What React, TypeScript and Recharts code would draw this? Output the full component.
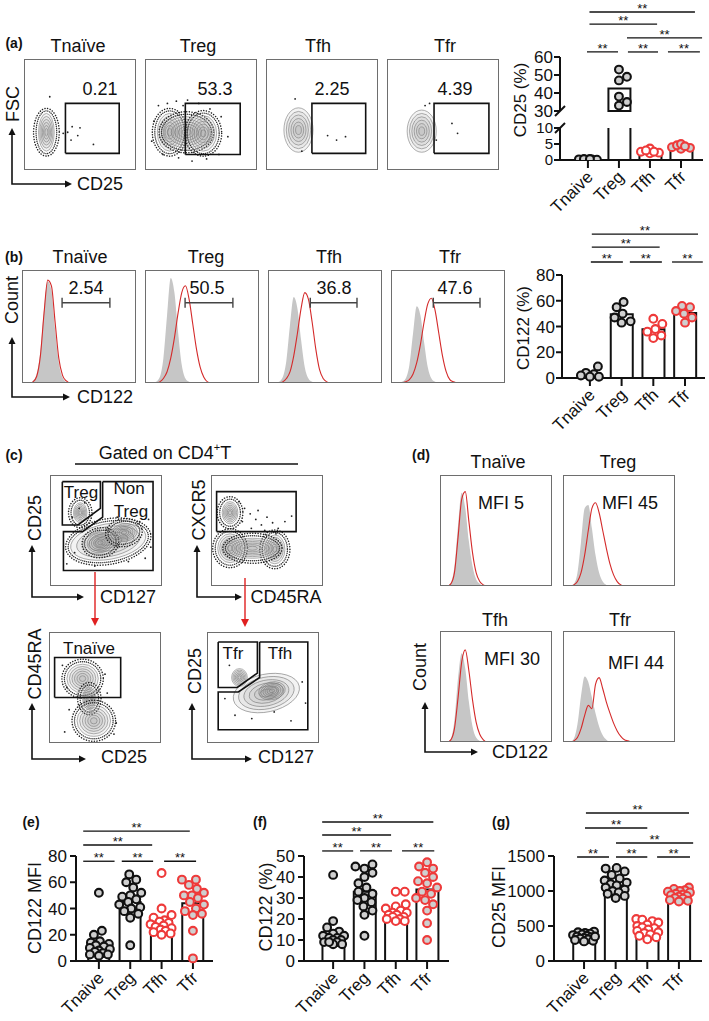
import React from "react";
import { Area, Bar, ComposedChart, Line, ReferenceLine, Scatter, XAxis, YAxis } from "recharts";

const FONT = '"Liberation Sans", Arial, Helvetica, sans-serif';
const INK = "#111111";
const RED = "#ee3a3a";
const HIST_RED = "#d42a2a";
const BOX = "#6e6e6e";

const GROUPS = ["Tnaive", "Treg", "Tfh", "Tfr"];
const TITLES = ["Tnaïve", "Treg", "Tfh", "Tfr"];
const DOT_STROKE = [INK, INK, RED, RED];
const DOT_FILL = ["#cfcfcf", "#cfcfcf", "#ffffff", "#cfcfcf"];

// ---------- (a) FSC vs CD25 flow plots ----------
const aPercent = ["0.21", "53.3", "2.25", "4.39"];
const aPopTnaive = [{ x: 20, y: 34, rx: 7, ry: 17 }];
const aPopTreg = [
  { x: 22, y: 34, rx: 11, ry: 17 },
  { x: 37, y: 34, rx: 20, ry: 14 },
  { x: 52, y: 33, rx: 12, ry: 16 },
];
const aPopTfh = [{ x: 29, y: 36, rx: 13, ry: 20 }];
const aPopTfr = [{ x: 31, y: 35, rx: 13, ry: 19 }];
const aEvTnaive = [
  { x: 23, y: 66 }, { x: 43, y: 39 }, { x: 50, y: 38 }, { x: 48, y: 31 },
  { x: 62, y: 23 }, { x: 42, y: 27 }, { x: 39, y: 34 }, { x: 35, y: 33 },
];
const aEvTreg = [
  { x: 8, y: 44 }, { x: 12, y: 58 }, { x: 20, y: 60 }, { x: 28, y: 62 }, { x: 38, y: 63 },
  { x: 48, y: 60 }, { x: 58, y: 55 }, { x: 68, y: 48 }, { x: 74, y: 30 }, { x: 66, y: 14 },
  { x: 55, y: 10 }, { x: 42, y: 8 }, { x: 30, y: 11 }, { x: 16, y: 14 }, { x: 6, y: 26 }, { x: 34, y: 58 },
];
const aEvTfh = [{ x: 71, y: 30 }, { x: 63, y: 27 }, { x: 55, y: 31 }, { x: 26, y: 64 }, { x: 32, y: 17 }];
const aEvTfr = [{ x: 58, y: 42 }, { x: 63, y: 33 }, { x: 34, y: 58 }, { x: 44, y: 27 }, { x: 38, y: 60 }];
const aGateTnaive = [{ x: 37, y: 15 }, { x: 85, y: 15 }, { x: 85, y: 60 }, { x: 37, y: 60 }, { x: 37, y: 15 }];
const aGateTreg = [{ x: 36, y: 14 }, { x: 85, y: 14 }, { x: 85, y: 60 }, { x: 36, y: 60 }, { x: 36, y: 14 }];
const aGateTfh = [{ x: 41, y: 15 }, { x: 89, y: 15 }, { x: 89, y: 60 }, { x: 41, y: 60 }, { x: 41, y: 15 }];
const aGateTfr = [{ x: 42, y: 15 }, { x: 91, y: 15 }, { x: 91, y: 60 }, { x: 42, y: 60 }, { x: 42, y: 15 }];

// ---------- (a) CD25 (%) bar chart ----------
const aTnaive = [0.2, 0.1, 0.3, 0.2, 0.1, 0.3];
const aTreg = [53, 49, 47, 38, 35, 33];
const aTfh = [2.3, 2.1, 2.6, 3.6, 3.0, 2.6];
const aTfr = [3.5, 4.0, 4.6, 5.0, 3.8, 4.3];
const aMeans = [0.2, 42.5, 2.7, 4.2];

// ---------- (b) CD122 histograms (32 bins) ----------
const bPercent = ["2.54", "50.5", "36.8", "47.6"];
const bCtrlTnaive = [0, 0, 0, 2, 8, 28, 66, 90, 82, 48, 18, 5, 1, 0, 0, 0, 0, 0, 0, 0, 0, 0, 0, 0, 0, 0, 0, 0, 0, 0, 0, 0];
const bStainTnaive = [0, 0, 0, 1, 6, 24, 62, 91, 86, 54, 22, 7, 2, 0, 0, 0, 0, 0, 0, 0, 0, 0, 0, 0, 0, 0, 0, 0, 0, 0, 0, 0];
const bCtrlTreg = [0, 0, 0, 1, 5, 22, 60, 93, 80, 45, 16, 4, 1, 0, 0, 0, 0, 0, 0, 0, 0, 0, 0, 0, 0, 0, 0, 0, 0, 0, 0, 0];
const bStainTreg = [0, 0, 0, 0, 1, 4, 10, 22, 40, 62, 80, 86, 74, 52, 30, 14, 5, 1, 0, 0, 0, 0, 0, 0, 0, 0, 0, 0, 0, 0, 0, 0];
const bCtrlTfh = [0, 0, 0, 1, 5, 20, 52, 76, 66, 38, 14, 4, 1, 0, 0, 0, 0, 0, 0, 0, 0, 0, 0, 0, 0, 0, 0, 0, 0, 0, 0, 0];
const bStainTfh = [0, 0, 0, 0, 1, 4, 10, 24, 44, 66, 80, 74, 54, 30, 12, 4, 1, 0, 0, 0, 0, 0, 0, 0, 0, 0, 0, 0, 0, 0, 0, 0];
const bCtrlTfr = [0, 0, 0, 1, 4, 16, 44, 68, 60, 36, 14, 4, 1, 0, 0, 0, 0, 0, 0, 0, 0, 0, 0, 0, 0, 0, 0, 0, 0, 0, 0, 0];
const bStainTfr = [0, 0, 0, 0, 1, 3, 8, 18, 34, 54, 70, 75, 64, 44, 24, 10, 3, 1, 0, 0, 0, 0, 0, 0, 0, 0, 0, 0, 0, 0, 0, 0];
const bGates = [
  { x1: 10.9, x2: 23.9, y: 71 },
  { x1: 10.9, x2: 23.9, y: 71 },
  { x1: 11.5, x2: 24.2, y: 71 },
  { x1: 11.5, x2: 24.2, y: 71 },
];

// ---------- (b) CD122 (%) bar chart ----------
const bTnaive = [9, 4, 3, 2, 1, 1];
const bTreg = [59, 55, 50, 47, 44, 43];
const bTfh = [46, 42, 38, 36, 33, 31];
const bTfr = [56, 55, 52, 50, 47, 43];
const bMeans = [3.3, 49.5, 37.8, 50.5];

// ---------- (c) gating ----------
const cPop1 = [
  { x: 52, y: 40, rx: 34, ry: 16, rot: -10 },
  { x: 45, y: 39, rx: 12, ry: 9, rot: -10 },
  { x: 66, y: 48, rx: 12, ry: 8, rot: -10 },
  { x: 27, y: 66, rx: 6, ry: 9, rot: 0 },
];
const cEv1 = [
  { x: 26, y: 70 }, { x: 31, y: 75 }, { x: 20, y: 62 }, { x: 88, y: 60 }, { x: 90, y: 35 }, { x: 15, y: 20 },
  { x: 40, y: 18 }, { x: 70, y: 22 }, { x: 85, y: 25 }, { x: 60, y: 62 }, { x: 22, y: 30 }, { x: 80, y: 58 },
];
const cGateTreg = [{ x: 11, y: 94 }, { x: 45, y: 94 }, { x: 45, y: 70 }, { x: 25, y: 55 }, { x: 11, y: 55 }, { x: 11, y: 94 }];
const cGateNonTreg = [
  { x: 47, y: 94 }, { x: 92, y: 94 }, { x: 92, y: 14 }, { x: 12, y: 14 },
  { x: 12, y: 49 }, { x: 29, y: 49 }, { x: 47, y: 62 }, { x: 47, y: 94 },
];
const cPop2 = [
  { x: 17, y: 66, rx: 7, ry: 10, rot: 0 },
  { x: 17, y: 34, rx: 11, ry: 13, rot: 0 },
  { x: 57, y: 33, rx: 9, ry: 13, rot: 0 },
  { x: 37, y: 34, rx: 22, ry: 9, rot: 0 },
];
const cEv2 = [
  { x: 30, y: 70 }, { x: 35, y: 65 }, { x: 40, y: 60 }, { x: 28, y: 58 }, { x: 45, y: 55 },
  { x: 50, y: 62 }, { x: 55, y: 57 }, { x: 60, y: 52 }, { x: 36, y: 52 }, { x: 42, y: 68 },
  { x: 25, y: 76 }, { x: 66, y: 58 }, { x: 72, y: 63 }, { x: 48, y: 50 }, { x: 58, y: 47 },
];
const cGateCxcr5 = [{ x: 5, y: 49 }, { x: 76, y: 49 }, { x: 76, y: 85 }, { x: 5, y: 85 }, { x: 5, y: 49 }];
const cPop3 = [
  { x: 30, y: 58, rx: 14, ry: 13, rot: 0 },
  { x: 36, y: 40, rx: 6, ry: 10, rot: 0 },
  { x: 40, y: 20, rx: 15, ry: 14, rot: 0 },
];
const cEv3 = [
  { x: 12, y: 70 }, { x: 16, y: 50 }, { x: 50, y: 62 }, { x: 52, y: 45 },
  { x: 18, y: 30 }, { x: 60, y: 18 }, { x: 14, y: 10 }, { x: 58, y: 8 },
];
const cGateTnaive = [{ x: 5, y: 41 }, { x: 64, y: 41 }, { x: 64, y: 77 }, { x: 5, y: 77 }, { x: 5, y: 41 }];
const cPop4 = [
  { x: 53, y: 45, rx: 30, ry: 17, rot: -12 },
  { x: 58, y: 47, rx: 12, ry: 8, rot: -12 },
  { x: 29, y: 59, rx: 7, ry: 8, rot: 0 },
];
const cEv4 = [
  { x: 20, y: 70 }, { x: 85, y: 55 }, { x: 88, y: 36 }, { x: 25, y: 25 },
  { x: 40, y: 22 }, { x: 60, y: 28 }, { x: 75, y: 20 }, { x: 16, y: 40 },
];
const cGateTfr = [{ x: 10, y: 91 }, { x: 45, y: 91 }, { x: 45, y: 63 }, { x: 27, y: 50 }, { x: 10, y: 50 }, { x: 10, y: 91 }];
const cGateTfh = [
  { x: 47, y: 91 }, { x: 90, y: 91 }, { x: 90, y: 12 }, { x: 10, y: 12 },
  { x: 10, y: 46 }, { x: 28, y: 46 }, { x: 47, y: 59 }, { x: 47, y: 91 },
];

// ---------- (d) CD122 histograms (32 bins) ----------
const dMfi = ["MFI 5", "MFI 45", "MFI 30", "MFI 44"];
const dCtrlTnaive = [0, 0, 0, 3, 18, 55, 84, 70, 40, 18, 6, 2, 0, 0, 0, 0, 0, 0, 0, 0, 0, 0, 0, 0, 0, 0, 0, 0, 0, 0, 0, 0];
const dStainTnaive = [0, 0, 0, 2, 12, 44, 78, 85, 58, 30, 12, 4, 1, 0, 0, 0, 0, 0, 0, 0, 0, 0, 0, 0, 0, 0, 0, 0, 0, 0, 0, 0];
const dCtrlTreg = [0, 0, 0, 2, 12, 40, 70, 73, 52, 28, 12, 4, 1, 0, 0, 0, 0, 0, 0, 0, 0, 0, 0, 0, 0, 0, 0, 0, 0, 0, 0, 0];
const dStainTreg = [0, 0, 0, 1, 4, 12, 28, 50, 70, 75, 66, 50, 34, 20, 10, 4, 1, 0, 0, 0, 0, 0, 0, 0, 0, 0, 0, 0, 0, 0, 0, 0];
const dCtrlTfh = [0, 0, 0, 3, 20, 58, 80, 66, 36, 14, 4, 1, 0, 0, 0, 0, 0, 0, 0, 0, 0, 0, 0, 0, 0, 0, 0, 0, 0, 0, 0, 0];
const dStainTfh = [0, 0, 0, 2, 12, 40, 72, 83, 64, 38, 18, 7, 2, 0, 0, 0, 0, 0, 0, 0, 0, 0, 0, 0, 0, 0, 0, 0, 0, 0, 0, 0];
const dCtrlTfr = [0, 0, 0, 3, 16, 42, 59, 54, 40, 26, 14, 6, 2, 0, 0, 0, 0, 0, 0, 0, 0, 0, 0, 0, 0, 0, 0, 0, 0, 0, 0, 0];
const dStainTfr = [0, 0, 0, 1, 4, 12, 24, 33, 30, 52, 58, 48, 36, 26, 17, 10, 5, 2, 1, 0, 0, 0, 0, 0, 0, 0, 0, 0, 0, 0, 0, 0];

// ---------- (e) CD122 MFI ----------
const eTnaive = [52, 23, 20, 15, 14, 13, 12, 11, 10, 9, 8, 7, 6, 5, 4, 5];
const eTreg = [66, 62, 60, 56, 52, 50, 49, 47, 45, 43, 41, 40, 38, 36, 33, 12];
const eTfh = [67, 40, 35, 33, 31, 30, 29, 28, 27, 26, 25, 24, 23, 22, 21, 20];
const eTfr = [62, 62, 58, 55, 52, 50, 50, 48, 45, 43, 40, 38, 36, 35, 23, 2];
const eMeans = [14, 45, 30.5, 44];

// ---------- (f) CD122 (%) ----------
const fTnaive = [41, 19, 16, 14, 13, 12, 12, 11, 11, 10, 10, 9, 9, 8, 8, 9];
const fTreg = [46, 45, 44, 42, 40, 37, 35, 33, 32, 30, 29, 28, 26, 24, 22, 12];
const fTfh = [33, 33, 27, 26, 25, 24, 23, 23, 22, 22, 21, 21, 20, 20, 19, 19];
const fTfr = [47, 45, 44, 42, 40, 38, 37, 35, 33, 32, 30, 29, 27, 24, 18, 10];
const fMeans = [13, 33, 24, 34];

// ---------- (g) CD25 MFI ----------
const gTnaive = [420, 410, 400, 390, 380, 370, 360, 350, 340, 330, 320, 310, 300, 290, 280, 350];
const gTreg = [1330, 1320, 1280, 1230, 1180, 1150, 1120, 1100, 1080, 1050, 1020, 1000, 980, 960, 930, 900];
const gTfh = [600, 590, 570, 550, 520, 500, 480, 470, 450, 430, 410, 400, 380, 360, 340, 310];
const gTfr = [1050, 1030, 1010, 1000, 990, 980, 960, 950, 940, 930, 920, 900, 890, 870, 860, 850];
const gMeans = [350, 1080, 470, 940];

type Pt = { x: number; y: number };
type Pop = { x: number; y: number; rx: number; ry: number; rot?: number };
type Bracket = { x1: number; x2: number; y: number };

// beeswarm offsets in pixels, so dots of one group do not pile on each other
function swarm(values: number[], ppu: number, r: number, limit: number): number[] {
  const order = values.map((v, i) => ({ v, i })).sort((a, b) => a.v - b.v);
  const placed: Pt[] = [];
  const out = new Array(values.length).fill(0);
  for (const { v, i } of order) {
    const y = v * ppu;
    let best = 0;
    let bestD = -Infinity;
    for (let s = 0; s <= limit * 2; s++) {
      const c = s === 0 ? 0 : (s % 2 ? 1 : -1) * Math.ceil(s / 2);
      const d = placed.reduce((m, p) => Math.min(m, Math.hypot(p.x - c, p.y - y)), Infinity);
      if (d >= 2 * r) {
        best = c;
        break;
      }
      if (d > bestD + 0.5) {
        bestD = d;
        best = c;
      }
    }
    out[i] = best;
    placed.push({ x: best, y });
  }
  return out;
}

function Txt({ x, y, size = 18, rot = 0, bold = false, children }: any) {
  return (
    <div
      style={{
        position: "absolute",
        left: x,
        top: y,
        transform: `translate(-50%, -50%) rotate(${rot}deg)`,
        fontSize: size,
        fontWeight: bold ? 700 : 400,
        whiteSpace: "nowrap",
        lineHeight: 1,
        color: INK,
      }}
    >
      {children}
    </div>
  );
}

const RotTick = (p: any) => {
  const x = p.x + 6;
  const y = p.y + 8;
  return (
    <text x={x} y={y} transform={`rotate(-45 ${x} ${y})`} textAnchor="end" fontSize={17} fill={INK}>
      {GROUPS[p.payload.value]}
    </text>
  );
};

const dotShape = (stroke: string, fill: string) => (p: any) =>
  p.cx == null ? <g /> : (
    <circle cx={p.cx + (p.payload?.dx ?? 0)} cy={p.cy} r={3.9} fill={fill} stroke={stroke} strokeWidth={2.1} />
  );

const eventShape = (p: any) => <circle cx={p.cx} cy={p.cy} r={0.9} fill="#222" />;

const contourShape = (kx: number, ky: number, speckle: boolean) => (p: any) => {
  const { cx, cy, payload } = p;
  const rx = payload.rx * kx;
  const ry = payload.ry * ky;
  const rings = [1, 0.84, 0.68, 0.52, 0.36, 0.2];
  return (
    <g transform={`rotate(${payload.rot ?? 0} ${cx} ${cy})`}>
      {speckle && (
        <>
          <ellipse cx={cx} cy={cy} rx={rx + 5} ry={ry + 5} fill="none" stroke="#222" strokeWidth={1.5} strokeDasharray="0.1 2.6" strokeLinecap="round" />
          <ellipse cx={cx} cy={cy} rx={rx + 2.5} ry={ry + 2.5} fill="none" stroke="#333" strokeWidth={1.4} strokeDasharray="0.1 1.9" strokeLinecap="round" />
        </>
      )}
      {rings.map((s) => (
        <ellipse key={s} cx={cx} cy={cy} rx={rx * s} ry={ry * s} fill="#9a9a9a" fillOpacity={0.12} stroke="#7a7a7a" strokeWidth={0.6} />
      ))}
    </g>
  );
};

function FlowPlot({ left, top, w, h, pops, events, gates, speckle }: {
  left: number; top: number; w: number; h: number; pops: Pop[]; events: Pt[]; gates: Pt[][]; speckle: boolean;
}) {
  return (
    <div style={{ position: "absolute", left, top, width: w, height: h }}>
      <ComposedChart width={w} height={h} margin={{ top: 0, right: 0, bottom: 0, left: 0 }}>
        <XAxis type="number" dataKey="x" domain={[0, 100]} allowDataOverflow hide />
        <YAxis type="number" domain={[0, 100]} allowDataOverflow hide />
        <Scatter data={pops} dataKey="y" shape={contourShape(w / 100, h / 100, speckle)} isAnimationActive={false} />
        <Scatter data={events} dataKey="y" shape={eventShape} isAnimationActive={false} />
        {gates.map((g, i) => (
          <Scatter
            key={i}
            data={g}
            dataKey="y"
            line={{ stroke: INK, strokeWidth: 1.6 }}
            lineType="joint"
            shape={() => <g />}
            isAnimationActive={false}
          />
        ))}
      </ComposedChart>
      <div style={{ position: "absolute", inset: 0, border: `1.5px solid ${BOX}` }} />
    </div>
  );
}

function HistPlot({ left, top, w, h, ctrl, stain, gate }: {
  left: number; top: number; w: number; h: number; ctrl: number[]; stain: number[]; gate?: { x1: number; x2: number; y: number };
}) {
  const data = ctrl.map((c, i) => ({ b: i, c, s: stain[i] }));
  return (
    <div style={{ position: "absolute", left, top, width: w, height: h }}>
      <ComposedChart width={w} height={h} data={data} margin={{ top: 0, right: 0, bottom: 0, left: 0 }}>
        <XAxis type="number" dataKey="b" domain={[0, ctrl.length - 1]} hide />
        <YAxis type="number" domain={[0, 100]} hide />
        <Area dataKey="c" type="monotone" fill="#c6c6c6" fillOpacity={1} stroke="none" isAnimationActive={false} />
        <Line dataKey="s" type="monotone" stroke={HIST_RED} strokeWidth={1.1} dot={false} isAnimationActive={false} />
        {gate && (
          <ReferenceLine segment={[{ x: gate.x1, y: gate.y }, { x: gate.x2, y: gate.y }]} stroke="#444" strokeWidth={1.4} ifOverflow="visible" />
        )}
        {gate && (
          <ReferenceLine segment={[{ x: gate.x1, y: gate.y - 4.5 }, { x: gate.x1, y: gate.y + 4.5 }]} stroke="#444" strokeWidth={1.4} ifOverflow="visible" />
        )}
        {gate && (
          <ReferenceLine segment={[{ x: gate.x2, y: gate.y - 4.5 }, { x: gate.x2, y: gate.y + 4.5 }]} stroke="#444" strokeWidth={1.4} ifOverflow="visible" />
        )}
      </ComposedChart>
      <div style={{ position: "absolute", inset: 0, border: `1.5px solid ${BOX}` }} />
    </div>
  );
}

function BarPanel(props: {
  plotLeft: number; plotTop: number; plotW: number; plotH: number;
  yDomain: [number, number]; yTicks: number[]; xDomain: [number, number];
  means: (number | null)[]; values: (number[] | null)[]; barSize: number;
  brackets?: Bracket[]; showXAxis?: boolean; clipY?: boolean; topSpace: number;
  bottomSpace?: number; tickGap?: number; tickFont?: number;
}) {
  const yW = 56;
  const xH = props.showXAxis ? 70 : 0;
  const bottom = props.bottomSpace ?? 0;
  const width = yW + props.plotW + 12;
  const height = props.topSpace + props.plotH + xH + bottom;
  const ppu = props.plotH / (props.yDomain[1] - props.yDomain[0]);
  const rows = props.means.map((m, i) => ({ x: i, mean: m }));
  const dots = props.values.map((vals, i) => {
    if (!vals) return [];
    const dx = swarm(vals, ppu, 4.2, 11);
    return vals.map((v, k) => ({ x: i, v, dx: dx[k] }));
  });
  const axisStyle = { stroke: INK, strokeWidth: 2 };
  return (
    <div style={{ position: "absolute", left: props.plotLeft - yW, top: props.plotTop - props.topSpace }}>
      <ComposedChart width={width} height={height} data={rows} margin={{ top: props.topSpace, right: 12, bottom, left: 0 }}>
        <XAxis
          type="number"
          dataKey="x"
          domain={props.xDomain}
          allowDataOverflow
          ticks={[0, 1, 2, 3]}
          interval={0}
          hide={!props.showXAxis}
          height={xH}
          tickSize={8}
          tickLine={axisStyle}
          axisLine={axisStyle}
          tick={<RotTick />}
        />
        <YAxis
          type="number"
          domain={props.yDomain}
          allowDataOverflow={!!props.clipY}
          ticks={props.yTicks}
          interval={0}
          width={yW}
          tickSize={6}
          tickMargin={props.tickGap ?? 3}
          tick={{ fill: INK, fontSize: props.tickFont ?? 17 }}
          tickLine={axisStyle}
          axisLine={axisStyle}
        />
        <Bar dataKey="mean" barSize={props.barSize} fill="#ffffff" stroke={INK} strokeWidth={2} isAnimationActive={false} />
        {dots.map((d, i) => (
          <Scatter key={i} data={d} dataKey="v" shape={dotShape(DOT_STROKE[i], DOT_FILL[i])} isAnimationActive={false} />
        ))}
        {(props.brackets ?? []).map((b, i) => (
          <ReferenceLine
            key={`br${i}`}
            segment={[{ x: b.x1, y: b.y }, { x: b.x2, y: b.y }]}
            stroke={INK}
            strokeWidth={1.3}
            ifOverflow="visible"
            label={{ value: "**", position: "top", offset: -1, fontSize: 13, fill: INK }}
          />
        ))}
      </ComposedChart>
    </div>
  );
}

function Decorations() {
  const axes = [
    { x: 12, y: 184, up: 128, right: 72 },
    { x: 12, y: 397, up: 337, right: 70 },
    { x: 32, y: 597, up: 545, right: 84 },
    { x: 197, y: 597, up: 545, right: 242 },
    { x: 32, y: 759, up: 703, right: 86 },
    { x: 192, y: 759, up: 703, right: 252 },
    { x: 425, y: 752, up: 702, right: 478 },
  ];
  return (
    <svg width={709} height={1021} style={{ position: "absolute", left: 0, top: 0, pointerEvents: "none" }}>
      {axes.map((a, i) => (
        <g key={i}>
          <polyline points={`${a.x},${a.up + 6} ${a.x},${a.y} ${a.right - 6},${a.y}`} fill="none" stroke={INK} strokeWidth={1.6} />
          <polygon points={`${a.x - 3.5},${a.up + 7} ${a.x + 3.5},${a.up + 7} ${a.x},${a.up}`} fill={INK} />
          <polygon points={`${a.right - 7},${a.y - 3.5} ${a.right - 7},${a.y + 3.5} ${a.right},${a.y}`} fill={INK} />
        </g>
      ))}
      {/* red gating arrows */}
      <line x1={95} y1={572} x2={95} y2={619} stroke="#e02020" strokeWidth={1.4} />
      <polygon points="91,618 99,618 95,626" fill="#e02020" />
      <line x1={245} y1={578} x2={245} y2={620} stroke="#e02020" strokeWidth={1.4} />
      <polygon points="241,619 249,619 245,627" fill="#e02020" />
      {/* "Gated on" rule */}
      <line x1={75} y1={464} x2={298} y2={464} stroke={INK} strokeWidth={1.3} />
      {/* axis break marks in (a) */}
      <line x1={555} y1={116} x2={565} y2={106} stroke={INK} strokeWidth={2} />
      <line x1={555} y1={133} x2={565} y2={123} stroke={INK} strokeWidth={2} />
    </svg>
  );
}

export default function App() {
  const aLefts = [24, 145, 266, 387];
  const aTitleX = [78, 198, 318, 445];
  const aPctX = [100, 215, 332, 455];
  const aPops = [aPopTnaive, aPopTreg, aPopTfh, aPopTfr];
  const aEvents = [aEvTnaive, aEvTreg, aEvTfh, aEvTfr];
  const aGates = [aGateTnaive, aGateTreg, aGateTfh, aGateTfr];
  const aSpeckle = [true, true, false, false];

  const bLefts = [22, 145, 268, 391];
  const bTitleX = [80, 206, 329, 450];
  const bPctX = [86, 207, 334, 455];
  const bCtrl = [bCtrlTnaive, bCtrlTreg, bCtrlTfh, bCtrlTfr];
  const bStain = [bStainTnaive, bStainTreg, bStainTfh, bStainTfr];

  const dPos = [
    { l: 440, t: 475 },
    { l: 563, t: 475 },
    { l: 440, t: 631 },
    { l: 563, t: 631 },
  ];
  const dTitle = [
    { x: 498, y: 462 },
    { x: 618, y: 462 },
    { x: 495, y: 620 },
    { x: 620, y: 620 },
  ];
  const dMfiPos = [
    { x: 501, y: 503 },
    { x: 630, y: 503 },
    { x: 512, y: 659 },
    { x: 636, y: 663 },
  ];
  const dCtrl = [dCtrlTnaive, dCtrlTreg, dCtrlTfh, dCtrlTfr];
  const dStain = [dStainTnaive, dStainTreg, dStainTfh, dStainTfr];

  return (
    <div
      style={{
        position: "absolute",
        left: 0,
        top: 0,
        width: 709,
        height: 1021,
        background: "#ffffff",
        fontFamily: FONT,
        color: INK,
        overflow: "hidden",
      }}
    >
      {/* ---------------- (a) ---------------- */}
      <Txt x={14} y={43} size={14} bold>(a)</Txt>
      {TITLES.map((t, i) => (
        <Txt key={t} x={aTitleX[i]} y={46}>{t}</Txt>
      ))}
      {aLefts.map((l, i) => (
        <FlowPlot key={i} left={l} top={59} w={112} h={111} pops={aPops[i]} events={aEvents[i]} gates={[aGates[i]]} speckle={aSpeckle[i]} />
      ))}
      {aPercent.map((p, i) => (
        <Txt key={p} x={aPctX[i]} y={89}>{p}</Txt>
      ))}
      <Txt x={13} y={104} rot={-90}>FSC</Txt>
      <Txt x={100} y={184}>CD25</Txt>

      <BarPanel
        plotLeft={560} plotTop={57} plotW={143} plotH={54}
        yDomain={[30, 60]} yTicks={[30, 40, 50, 60]} xDomain={[-0.9, 3.71]}
        means={[null, aMeans[1], null, null]} values={[null, aTreg, null, null]} barSize={22}
        topSpace={57} bottomSpace={10} tickGap={1}
        brackets={[
          { x1: -0.03, x2: 0.97, y: 62.8 },
          { x1: 1.29, x2: 2.26, y: 62.8 },
          { x1: 2.58, x2: 3.61, y: 62.8 },
          { x1: 1.26, x2: 3.68, y: 70.6 },
          { x1: 0.05, x2: 2.23, y: 78.3 },
          { x1: 0.05, x2: 3.45, y: 85 },
        ]}
      />
      <BarPanel
        plotLeft={560} plotTop={128} plotW={143} plotH={32}
        yDomain={[0, 10]} yTicks={[0, 5, 10]} xDomain={[-0.9, 3.71]}
        means={aMeans} values={[aTnaive, null, aTfh, aTfr]} barSize={22}
        topSpace={12} showXAxis clipY tickGap={1} tickFont={15}
      />
      <Txt x={520} y={100} rot={-90} size={17}>CD25 (%)</Txt>

      {/* ---------------- (b) ---------------- */}
      <Txt x={14} y={257} size={14} bold>(b)</Txt>
      {TITLES.map((t, i) => (
        <Txt key={t} x={bTitleX[i]} y={257}>{t}</Txt>
      ))}
      {bLefts.map((l, i) => (
        <HistPlot key={i} left={l} top={270} w={114} h={113} ctrl={bCtrl[i]} stain={bStain[i]} gate={bGates[i]} />
      ))}
      {bPercent.map((p, i) => (
        <Txt key={p} x={bPctX[i]} y={288}>{p}</Txt>
      ))}
      <Txt x={12} y={300} rot={-90}>Count</Txt>
      <Txt x={105} y={397}>CD122</Txt>

      <BarPanel
        plotLeft={562} plotTop={275} plotW={143} plotH={103}
        yDomain={[0, 80]} yTicks={[0, 20, 40, 60, 80]} xDomain={[-0.88, 3.63]}
        means={bMeans} values={[bTnaive, bTreg, bTfh, bTfr]} barSize={22}
        topSpace={62} showXAxis tickGap={1}
        brackets={[
          { x1: 0.03, x2: 1.04, y: 90.1 },
          { x1: 1.26, x2: 2.27, y: 90.1 },
          { x1: 2.59, x2: 3.56, y: 90.1 },
          { x1: 0.06, x2: 2.2, y: 101.7 },
          { x1: 0.06, x2: 3.41, y: 111.8 },
        ]}
      />
      <Txt x={523} y={328} rot={-90} size={17}>CD122 (%)</Txt>

      {/* ---------------- (c) ---------------- */}
      <Txt x={14} y={455} size={14} bold>(c)</Txt>
      <Txt x={165} y={453} size={18}>
        Gated on CD4<sup style={{ fontSize: 11, verticalAlign: "top", position: "relative", top: -2 }}>+</sup>T
      </Txt>
      <FlowPlot left={50} top={475} w={112} h={111} pops={cPop1} events={cEv1} gates={[cGateTreg, cGateNonTreg]} speckle />
      <FlowPlot left={211} top={475} w={112} h={111} pops={cPop2} events={cEv2} gates={[cGateCxcr5]} speckle />
      <FlowPlot left={49} top={632} w={112} h={111} pops={cPop3} events={cEv3} gates={[cGateTnaive]} speckle />
      <FlowPlot left={207} top={632} w={112} h={111} pops={cPop4} events={cEv4} gates={[cGateTfr, cGateTfh]} speckle={false} />
      <Txt x={81} y={492} size={17}>Treg</Txt>
      <Txt x={129} y={488} size={17}>Non</Txt>
      <Txt x={131} y={511} size={17}>Treg</Txt>
      <Txt x={89} y={648} size={17}>Tnaïve</Txt>
      <Txt x={233} y={653} size={17}>Tfr</Txt>
      <Txt x={280} y={653} size={17}>Tfh</Txt>
      <Txt x={35} y={518} rot={-90}>CD25</Txt>
      <Txt x={128} y={597}>CD127</Txt>
      <Txt x={199} y={510} rot={-90}>CXCR5</Txt>
      <Txt x={286} y={597}>CD45RA</Txt>
      <Txt x={35} y={664} rot={-90}>CD45RA</Txt>
      <Txt x={124} y={757}>CD25</Txt>
      <Txt x={195} y={671} rot={-90}>CD25</Txt>
      <Txt x={286} y={757}>CD127</Txt>

      {/* ---------------- (d) ---------------- */}
      <Txt x={421} y={455} size={14} bold>(d)</Txt>
      {dPos.map((p, i) => (
        <HistPlot key={i} left={p.l} top={p.t} w={112} h={111} ctrl={dCtrl[i]} stain={dStain[i]} />
      ))}
      {TITLES.map((t, i) => (
        <Txt key={t} x={dTitle[i].x} y={dTitle[i].y}>{t}</Txt>
      ))}
      {dMfi.map((m, i) => (
        <Txt key={m} x={dMfiPos[i].x} y={dMfiPos[i].y}>{m}</Txt>
      ))}
      <Txt x={420} y={667} rot={-90}>Count</Txt>
      <Txt x={520} y={752}>CD122</Txt>

      {/* ---------------- (e) ---------------- */}
      <Txt x={31} y={822} size={14} bold>(e)</Txt>
      <BarPanel
        plotLeft={76} plotTop={856} plotW={137} plotH={105}
        yDomain={[0, 80]} yTicks={[0, 20, 40, 60, 80]} xDomain={[-0.73, 3.64]}
        means={eMeans} values={[eTnaive, eTreg, eTfh, eTfr]} barSize={21}
        topSpace={45} showXAxis
        brackets={[
          { x1: -0.5, x2: 0.5, y: 76 },
          { x1: 0.73, x2: 1.73, y: 76 },
          { x1: 2.08, x2: 3.1, y: 76 },
          { x1: -0.5, x2: 1.7, y: 88.4 },
          { x1: -0.5, x2: 2.9, y: 99 },
        ]}
      />
      <Txt x={35} y={908} rot={-90}>CD122 MFI</Txt>

      {/* ---------------- (f) ---------------- */}
      <Txt x={260} y={822} size={14} bold>(f)</Txt>
      <BarPanel
        plotLeft={304} plotTop={856} plotW={145} plotH={105}
        yDomain={[0, 50]} yTicks={[0, 10, 20, 30, 40, 50]} xDomain={[-0.93, 3.7]}
        means={fMeans} values={[fTnaive, fTreg, fTfh, fTfr]} barSize={22}
        topSpace={45} showXAxis
        brackets={[
          { x1: -0.35, x2: 0.64, y: 52.4 },
          { x1: 0.86, x2: 1.88, y: 52.4 },
          { x1: 2.2, x2: 3.23, y: 52.4 },
          { x1: -0.35, x2: 1.85, y: 60 },
          { x1: -0.35, x2: 3.2, y: 66.2 },
        ]}
      />
      <Txt x={266} y={907} rot={-90}>CD122 (%)</Txt>

      {/* ---------------- (g) ---------------- */}
      <Txt x={501} y={822} size={14} bold>(g)</Txt>
      <BarPanel
        plotLeft={554} plotTop={856} plotW={148} plotH={105}
        yDomain={[0, 1500]} yTicks={[0, 500, 1000, 1500]} xDomain={[-0.95, 3.73]}
        means={gMeans} values={[gTnaive, gTreg, gTfh, gTfr]} barSize={22}
        topSpace={60} showXAxis
        brackets={[
          { x1: -0.22, x2: 0.79, y: 1486 },
          { x1: 1.01, x2: 2.0, y: 1486 },
          { x1: 2.31, x2: 3.35, y: 1486 },
          { x1: 1.01, x2: 3.45, y: 1686 },
          { x1: 0.03, x2: 2.0, y: 1900 },
          { x1: 0.06, x2: 3.32, y: 2114 },
        ]}
      />
      <Txt x={499} y={907} rot={-90}>CD25 MFI</Txt>

      <Decorations />
    </div>
  );
}
